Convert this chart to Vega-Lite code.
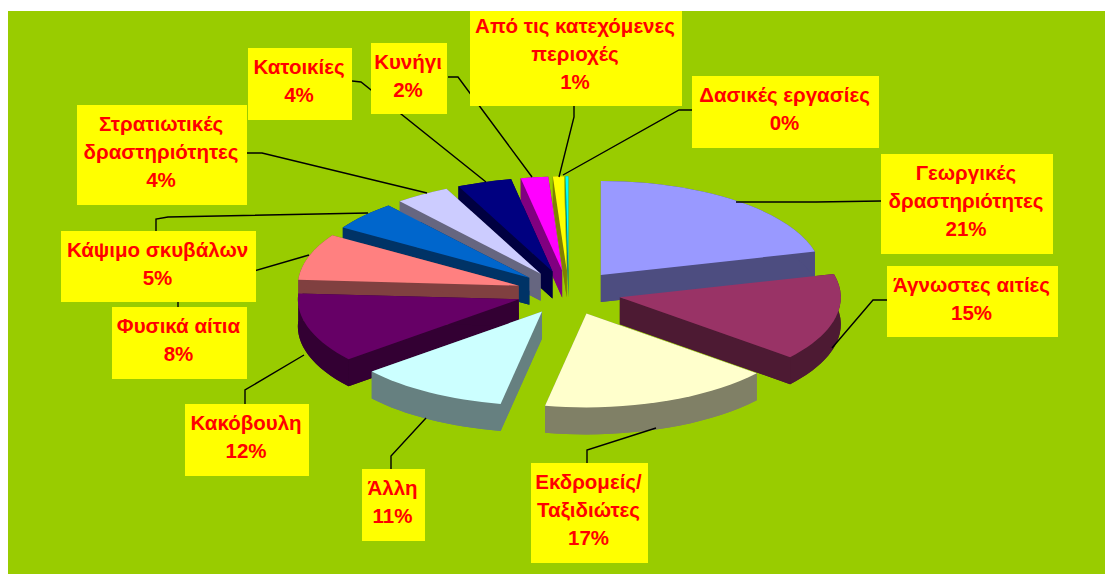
{"$schema":"https://vega.github.io/schema/vega-lite/v6.json","width":1097,"height":563,"autosize":"none","padding":{"left":8,"top":11,"right":0,"bottom":0},"background":"#FFFFFF","view":{"fill":"#99CC00","stroke":null},
"data":{"values":[
{"cause":"Γεωργικές\nδραστηριότητες","value":21},
{"cause":"Άγνωστες αιτίες","value":15},
{"cause":"Εκδρομείς/\nΤαξιδιώτες","value":17},
{"cause":"Άλλη","value":11},
{"cause":"Κακόβουλη","value":12},
{"cause":"Φυσικά αίτια","value":8},
{"cause":"Κάψιμο σκυβάλων","value":5},
{"cause":"Στρατιωτικές\nδραστηριότητες","value":4},
{"cause":"Κατοικίες","value":4},
{"cause":"Κυνήγι","value":2},
{"cause":"Από τις κατεχόμενες\nπεριοχές","value":0.8},
{"cause":"Δασικές εργασίες","value":0.2}]},
"transform":[
{"joinaggregate":[{"op":"sum","field":"value","as":"total"}]},
{"window":[{"op":"sum","field":"value","as":"cumEnd"},{"op":"row_number","as":"idx"}]},
{"calculate":"(datum.cumEnd-datum.value)*2*PI/datum.total","as":"a0"},
{"calculate":"datum.cumEnd*2*PI/datum.total","as":"a1"},
{"calculate":"(datum.a0+datum.a1)/2","as":"mid"},
{"calculate":"568.7+52.4*sin(datum.mid)","as":"tipx"},
{"calculate":"292.5-22.2*cos(datum.mid)","as":"tipy"},
{"calculate":"round(221*sin(datum.a0)*100)/100","as":"sx"},
{"calculate":"round(-94*cos(datum.a0)*100)/100","as":"sy"},
{"calculate":"round(221*sin(datum.a1)*100)/100","as":"ex"},
{"calculate":"round(-94*cos(datum.a1)*100)/100","as":"ey"},
{"calculate":"'M0,0L'+datum.sx+','+datum.sy+'A221,94,0,0,1,'+datum.ex+','+datum.ey+'Z'","as":"pTop"},
{"calculate":"'M0,27L'+datum.sx+','+(datum.sy+27)+'A221,94,0,0,1,'+datum.ex+','+(datum.ey+27)+'Z'","as":"pBase"},
{"calculate":"'M'+datum.sx+','+datum.sy+'A221,94,0,0,1,'+datum.ex+','+datum.ey+'L'+datum.ex+','+(datum.ey+27)+'A221,94,0,0,0,'+datum.sx+','+(datum.sy+27)+'Z'","as":"pRim"},
{"calculate":"'M0,0L'+datum.sx+','+datum.sy+'L'+datum.sx+','+(datum.sy+27)+'L0,27Z'","as":"pCut0"},
{"calculate":"'M0,0L'+datum.ex+','+datum.ey+'L'+datum.ex+','+(datum.ey+27)+'L0,27Z'","as":"pCut1"},
{"calculate":"[[881,154,1053,254],[887,266,1058,337],[531,463,648,563],[362,469,425,541],[185,404,309,476],[112,307,247,379],[61,231,256,302],[77,105,247,205],[248,48,352,120],[371,43,447,114],[470,11,682,106],[692,76,879,148]][datum.idx-1]","as":"box"},
{"calculate":"['M736,202L816,202L881,201','M832,348L873,300L887,300','M656,428L587,450L587,463','M426,418L391,456L391,469','M304,355L245,390L245,404','M309,255L178,293L178,307','M368,213L168,217L156,219L156,231','M427,193L262,153L247,153','M486,182L361,82L352,81','M532,177L458,77L448,77','M559,177L574,117L574,106','M563,175L679,110L692,110'][datum.idx-1]","as":"leader"},
{"calculate":"datum.box[0]","as":"bx0"},{"calculate":"datum.box[1]","as":"by0"},{"calculate":"datum.box[2]","as":"bx1"},{"calculate":"datum.box[3]","as":"by1"},
{"calculate":"(datum.bx0+datum.bx1)/2-1","as":"tx"},
{"calculate":"datum.cause+'\\n'+round(datum.value)+'%'","as":"labelText"},
{"calculate":"(datum.by0+datum.by1)/2-(datum.idx==11?4:2)-(length(split(datum.labelText,'\\n'))-1)*14","as":"ty"}
],
"encoding":{
"x":{"field":"tipx","type":"quantitative","axis":null,"scale":{"domain":[8,1105]}},
"y":{"field":"tipy","type":"quantitative","axis":null,"scale":{"domain":[574,11]}}
},
"layer":[
{"mark":{"type":"point","filled":true,"opacity":1,"strokeWidth":0},"encoding":{"order":{"field":"tipy","type":"quantitative"},"shape":{"field":"pBase","type":"nominal","scale":null,"legend":null},"size":{"value":4},"color":{"field":"idx","type":"nominal","legend":null,"scale":{"domain":[1,2,3,4,5,6,7,8,9,10,11,12],"range":["#4D4D80","#4D1A33","#808066","#668080","#330033","#804040","#003366","#666680","#000040","#800080","#808000","#008080"]}}}},
{"mark":{"type":"point","filled":true,"opacity":1,"strokeWidth":0},"encoding":{"order":{"field":"tipy","type":"quantitative"},"shape":{"field":"pCut0","type":"nominal","scale":null,"legend":null},"size":{"value":4},"color":{"field":"idx","type":"nominal","legend":null,"scale":{"domain":[1,2,3,4,5,6,7,8,9,10,11,12],"range":["#4D4D80","#4D1A33","#808066","#668080","#330033","#804040","#003366","#666680","#000040","#800080","#808000","#008080"]}}}},
{"mark":{"type":"point","filled":true,"opacity":1,"strokeWidth":0},"encoding":{"order":{"field":"tipy","type":"quantitative"},"shape":{"field":"pCut1","type":"nominal","scale":null,"legend":null},"size":{"value":4},"color":{"field":"idx","type":"nominal","legend":null,"scale":{"domain":[1,2,3,4,5,6,7,8,9,10,11,12],"range":["#4D4D80","#4D1A33","#808066","#668080","#330033","#804040","#003366","#666680","#000040","#800080","#808000","#008080"]}}}},
{"mark":{"type":"point","filled":true,"opacity":1,"strokeWidth":0},"encoding":{"order":{"field":"tipy","type":"quantitative"},"shape":{"field":"pRim","type":"nominal","scale":null,"legend":null},"size":{"value":4},"color":{"field":"idx","type":"nominal","legend":null,"scale":{"domain":[1,2,3,4,5,6,7,8,9,10,11,12],"range":["#4D4D80","#4D1A33","#808066","#668080","#330033","#804040","#003366","#666680","#000040","#800080","#808000","#008080"]}}}},
{"mark":{"type":"point","filled":true,"opacity":1,"strokeWidth":0},"encoding":{"order":{"field":"tipy","type":"quantitative"},"shape":{"field":"pTop","type":"nominal","scale":null,"legend":null},"size":{"value":4},"color":{"field":"idx","type":"nominal","legend":null,"scale":{"domain":[1,2,3,4,5,6,7,8,9,10,11,12],"range":["#9999FF","#993366","#FFFFCC","#CCFFFF","#660066","#FF8080","#0066CC","#CCCCFF","#000080","#FF00FF","#FFFF00","#00FFFF"]}}}},
{"mark":{"type":"point","filled":false,"opacity":1,"stroke":"#000000","strokeWidth":1.4},"encoding":{"x":{"datum":0,"type":"quantitative","axis":null,"scale":{"domain":[8,1105]}},"y":{"datum":0,"type":"quantitative","axis":null,"scale":{"domain":[574,11]}},"shape":{"field":"leader","type":"nominal","scale":null,"legend":null},"size":{"value":4}}},
{"mark":{"type":"rect","fill":"#FFFF00","stroke":null},"encoding":{"x":{"field":"bx0","type":"quantitative","axis":null,"scale":{"domain":[8,1105]}},"x2":{"field":"bx1"},"y":{"field":"by0","type":"quantitative","axis":null,"scale":{"domain":[574,11]}},"y2":{"field":"by1"}}},
{"mark":{"type":"text","font":"Liberation Sans","fontWeight":"bold","fontSize":20.5,"color":"#FF0000","lineBreak":"\n","lineHeight":28,"align":"center","baseline":"middle"},"encoding":{"x":{"field":"tx","type":"quantitative","axis":null,"scale":{"domain":[8,1105]}},"y":{"field":"ty","type":"quantitative","axis":null,"scale":{"domain":[574,11]}},"text":{"field":"labelText","type":"nominal"}}}
],
"resolve":{"scale":{"color":"independent"}}}
